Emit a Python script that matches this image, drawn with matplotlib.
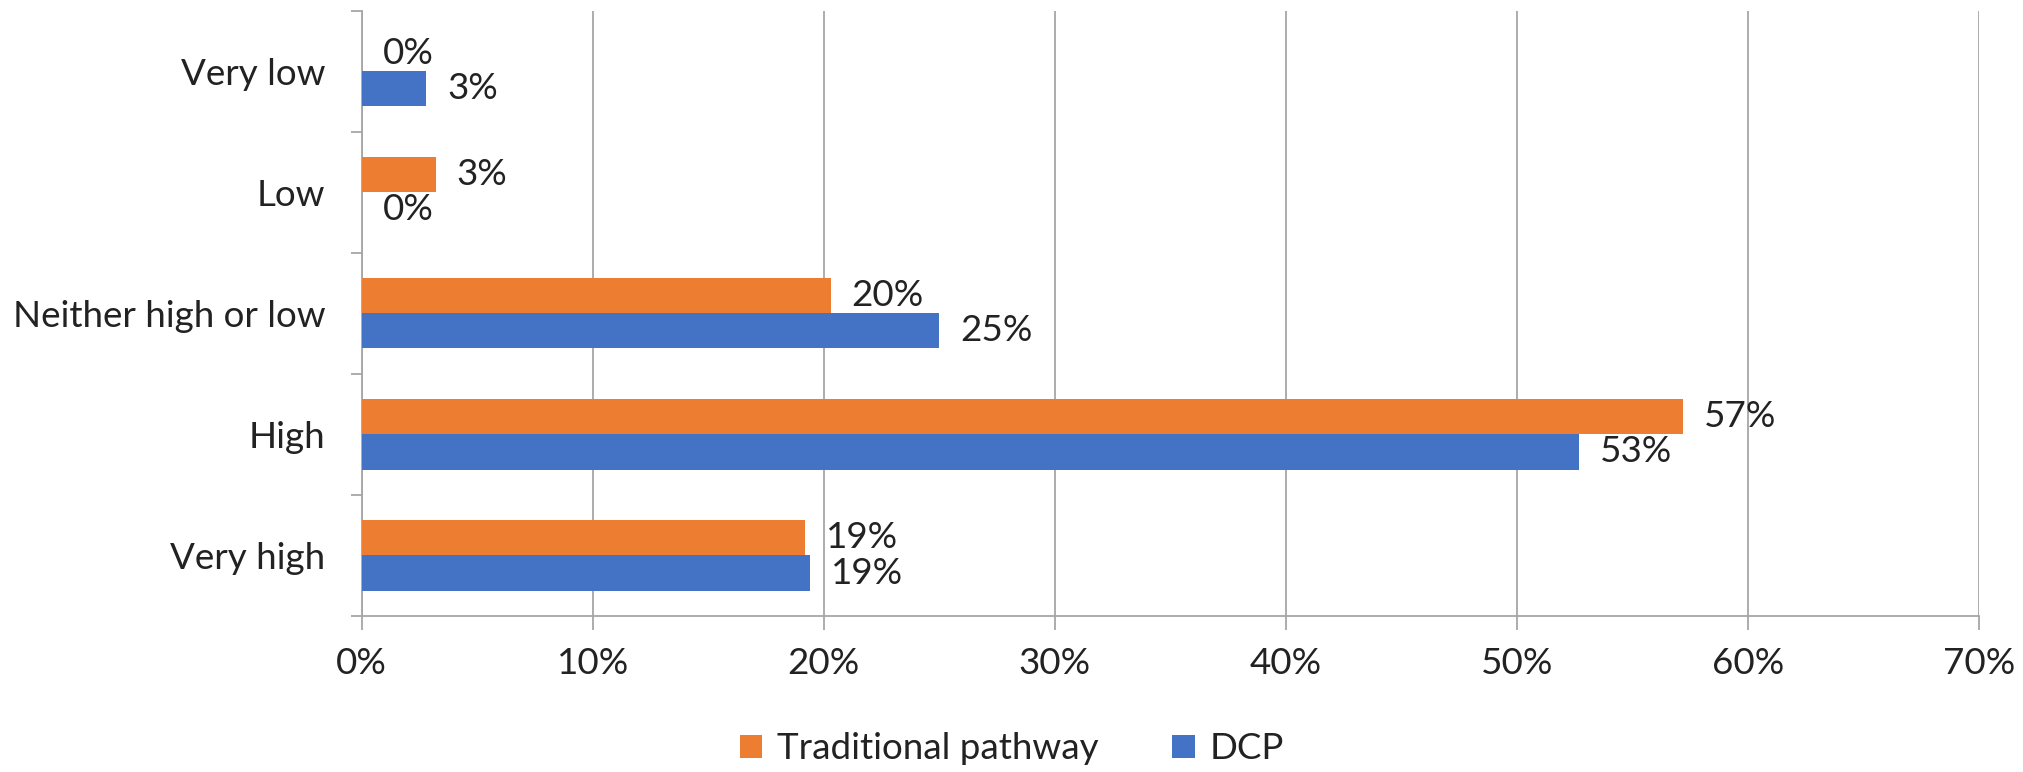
import numpy as np
import matplotlib
matplotlib.use("Agg")
import matplotlib.pyplot as plt
from matplotlib.ticker import PercentFormatter

# data (bottom to top)
categories = ["Very high", "High", "Neither high or low", "Low", "Very low"]
traditional = [19.2, 57.2, 20.3, 3.2, 0.0]
dcp = [19.4, 52.7, 25.0, 0.0, 2.8]
trad_labels = ["19%", "57%", "20%", "3%", "0%"]
dcp_labels = ["19%", "53%", "25%", "0%", "3%"]

ORANGE = "#ED7D31"
BLUE = "#4472C4"
GRID = "#A6A6A6"
TEXT = "#222222"
FS = 26.5

plt.rcParams["font.family"] = ["Lato", "DejaVu Sans"]
plt.rcParams["text.color"] = TEXT

fig = plt.figure(figsize=(20.24, 7.72), dpi=100)
ax = fig.add_axes([0.1787, 0.2021, 0.9778 - 0.1787, 0.9861 - 0.2021])

y = np.arange(len(categories))
h = 0.29
b1 = ax.barh(y + h / 2, traditional, height=h, color=ORANGE, label="Traditional pathway", zorder=3)
b2 = ax.barh(y - h / 2, dcp, height=h, color=BLUE, label="DCP", zorder=3)

ax.bar_label(b1, labels=trad_labels, padding=15, fontsize=FS, color=TEXT)
ax.bar_label(b2, labels=dcp_labels, padding=15, fontsize=FS, color=TEXT)

ax.set_xlim(0, 70)
ax.set_ylim(-0.5, len(categories) - 0.5)
ax.set_xticks(np.arange(0, 71, 10))
ax.xaxis.set_major_formatter(PercentFormatter(decimals=0))
ax.set_yticks(y)
ax.set_yticklabels(categories)
ax.set_yticks(np.arange(-0.5, len(categories), 1), minor=True)

ax.grid(axis="x", color=GRID, linewidth=1.3, zorder=0)
for s in ["top", "right"]:
    ax.spines[s].set_visible(False)
for s in ["left", "bottom"]:
    ax.spines[s].set_color(GRID)
    ax.spines[s].set_linewidth(1.3)

ax.tick_params(axis="x", length=10, width=1.3, color=GRID, pad=12, labelsize=FS, labelcolor=TEXT)
ax.tick_params(axis="y", which="major", length=0, pad=26, labelsize=FS, labelcolor=TEXT)
ax.tick_params(axis="y", which="minor", length=8, width=1.3, color=GRID)

fig.legend(loc="center", bbox_to_anchor=(0.5, 0.03), ncol=2, frameon=False,
           fontsize=FS, handlelength=0.6, handleheight=0.6, handletextpad=0.4,
           columnspacing=2.0)

fig.savefig("out.png", dpi=100)
